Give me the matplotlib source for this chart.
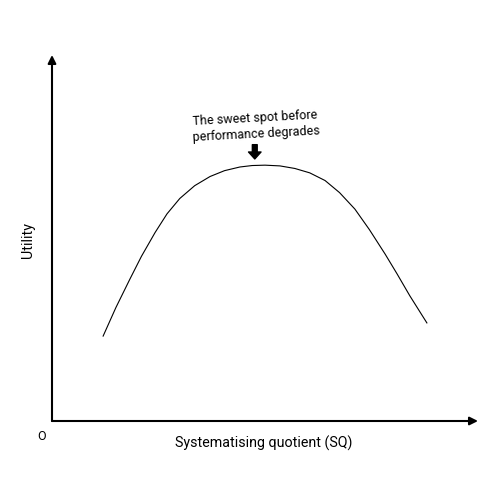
import matplotlib
matplotlib.use("Agg")
import matplotlib.pyplot as plt

sq = [12, 15, 18.3, 21, 24.2, 27, 30, 33.5, 37.1, 40.5, 44.1, 47, 50, 53.5, 57, 60.5, 64.1, 67.5, 71.1, 74.5, 78.2, 81, 84, 88]
utility = [23.2, 31.0, 38.8, 45.0, 51.5, 56.6, 60.8, 64.3, 66.8, 68.4, 69.4, 69.8, 69.9, 69.7, 69.0, 67.8, 65.7, 62.4, 57.9, 52.3, 45.6, 40.2, 34.2, 26.8]
annotation = "The sweet spot before\nperformance degrades"

plt.rcParams['font.family'] = ['Roboto', 'DejaVu Sans']
fig = plt.figure(figsize=(5, 5), dpi=100)
ax = fig.add_axes([52/500, 79/500, 426/500, 366/500])
ax.set_xlim(0, 100)
ax.set_ylim(0, 100)
ax.axis('off')
ax.plot(sq, utility, color='black', lw=0.8, solid_joinstyle='round')
ax.annotate('', xy=(100, 0), xytext=(0, 0), arrowprops=dict(arrowstyle='-|>', color='black', lw=1.5, mutation_scale=12, shrinkA=0, shrinkB=0), annotation_clip=False)
ax.annotate('', xy=(0, 100), xytext=(0, 0), arrowprops=dict(arrowstyle='-|>', color='black', lw=1.5, mutation_scale=12, shrinkA=0, shrinkB=0), annotation_clip=False)
ax.annotate('', xy=(47.6, 71.6), xytext=(47.6, 75.5), arrowprops=dict(arrowstyle='simple,head_width=0.9,tail_width=0.35', color='black', shrinkA=0, shrinkB=0))
ax.text(47.8, 80.5, annotation, ha='center', va='center', fontsize=9, rotation=3, linespacing=1.25)
fig.text(28/500, 1 - 240/500, 'Utility', rotation=90, ha='center', va='center', fontsize=10.3)
fig.text(264/500, 1 - 443/500, 'Systematising quotient (SQ)', ha='center', va='center', fontsize=10.3)
fig.text(42/500, 1 - 436/500, 'O', ha='center', va='center', fontsize=9)
fig.savefig('out.png', dpi=100, facecolor='white')
